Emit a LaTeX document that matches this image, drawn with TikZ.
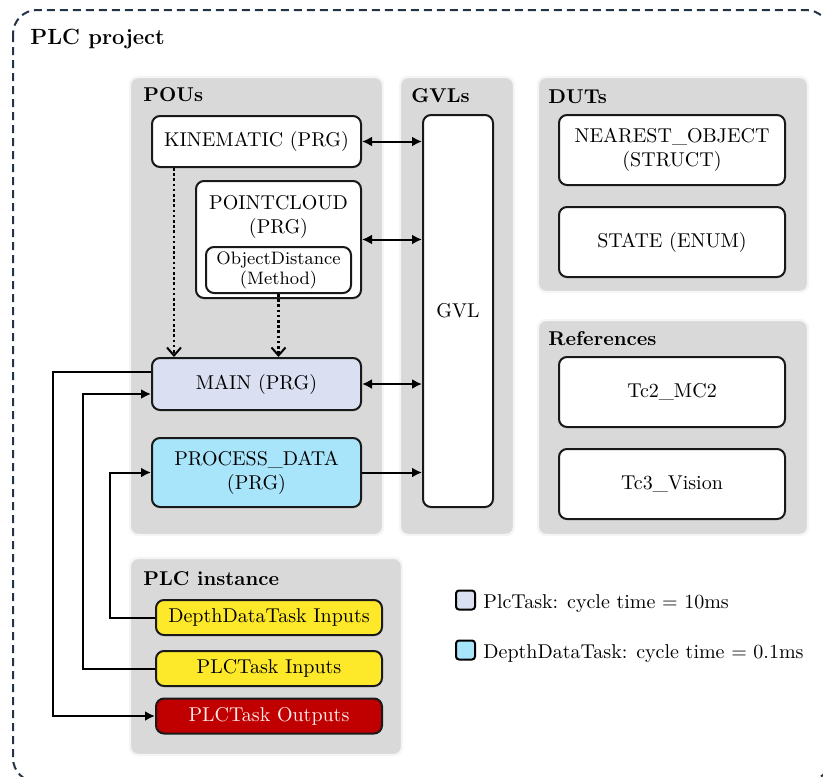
\documentclass[tikz,border=0pt]{standalone}
\usetikzlibrary{arrows.meta,calc}
\definecolor{framecol}{HTML}{243447}
\definecolor{panelgray}{HTML}{D9D9D9}
\definecolor{plcblue}{HTML}{DAE0F2}
\definecolor{depthcyan}{HTML}{A9E5FA}
\definecolor{inyellow}{HTML}{FDE92A}
\definecolor{outred}{HTML}{C00000}
\tikzset{
  panel/.style={fill=panelgray, draw=black!4, line width=1.2pt, rounded corners=4pt},
  paneltitle/.style={anchor=base west, font=\bfseries, inner sep=0pt},
  box/.style={draw=black!90, line width=1pt, fill=white, rounded corners=4pt,
              align=center, inner sep=2pt},
  iobox/.style={box, minimum width=113pt, minimum height=17.5pt},
  conn/.style={line width=1pt, -{Latex[length=5pt,width=5pt]}},
  biconn/.style={line width=1pt, {Latex[length=5pt,width=5pt]}-{Latex[length=5pt,width=5pt]}},
  dotconn/.style={line width=1.3pt, dash pattern=on 1.3pt off 1.3pt,
                  -{Straight Barb[length=4pt,width=7pt,line width=1pt]}},
  legendsq/.style={draw=black, line width=1pt, rounded corners=1.5pt,
                   minimum size=9.5pt, inner sep=0pt},
}
\begin{document}
\begin{tikzpicture}[x=0.5pt, y=-0.5pt]
\useasboundingbox (0,0) rectangle (823,776);

% outer project frame
\draw[framecol, line width=1pt, dash pattern=on 4pt off 2.5pt, rounded corners=12pt]
  (13,10) rectangle (830,782);
\node[paneltitle, font=\bfseries\fontsize{11}{13}\selectfont] (projtitle) at (30,44) {PLC project};

% group panels
\filldraw[panel] (130,77) rectangle (383,535);
\filldraw[panel] (400,77) rectangle (514,535);
\filldraw[panel] (538,77) rectangle (808,292);
\filldraw[panel] (538,320) rectangle (808,535);
\filldraw[panel] (130,558) rectangle (402,755);

\node[paneltitle] (poustitle) at (143,101) {POUs};
\node[paneltitle] (gvlstitle) at (411,102) {GVLs};
\node[paneltitle] (dutstitle) at (548,103) {DUTs};
\node[paneltitle] (refstitle) at (548,345) {References};
\node[paneltitle] (insttitle) at (143,585) {PLC instance};

% POUs
\node[box, minimum width=104.5pt, minimum height=25.5pt] (kin) at (256.5,141.5) {KINEMATIC (PRG)};
\node[box, minimum width=82.5pt, minimum height=58.5pt] (pc) at (278.5,239.5) {};
\node[align=center, inner sep=0pt] (pclabel) at (278.5,217) {POINTCLOUD\\(PRG)};
\node[box, minimum width=72.5pt, minimum height=23pt, font=\small, inner sep=1pt] (od) at (278.5,270)
  {ObjectDistance\\[-1pt](Method)};
\node[box, fill=plcblue, minimum width=104.5pt, minimum height=26pt] (main) at (256.5,384) {MAIN (PRG)};
\node[box, fill=depthcyan, minimum width=104.5pt, minimum height=34.5pt] (pd) at (256.5,472.5) {PROCESS\_DATA\\(PRG)};

% GVLs
\node[box, minimum width=35pt, minimum height=196pt] (gvl) at (458,311) {GVL};

% DUTs
\node[box, minimum width=113pt, minimum height=35pt] (nearest) at (672,150) {NEAREST\_OBJECT\\(STRUCT)};
\node[box, minimum width=113pt, minimum height=35pt] (state) at (672,242) {STATE (ENUM)};

% References
\node[box, minimum width=113pt, minimum height=35pt] (tctwo) at (672,392) {Tc2\_MC2};
\node[box, minimum width=113pt, minimum height=35pt] (tcthree) at (672,484) {Tc3\_Vision};

% PLC instance
\node[iobox, fill=inyellow] (ddi) at (269,617.5) {DepthDataTask Inputs};
\node[iobox, fill=inyellow] (pti) at (269,668.5) {PLCTask Inputs};
\node[iobox, fill=outred, text=red!8] (pto) at (269,716) {PLCTask Outputs};

% links to the global variable list
\draw[biconn] (kin.east) -- (kin.east -| gvl.west);
\draw[biconn] (pc.east) -- (pc.east -| gvl.west);
\draw[biconn] (main.east) -- (main.east -| gvl.west);
\draw[conn] (pd.east) -- (pd.east -| gvl.west);

% calls into MAIN
\coordinate (kincall) at (174,0);
\draw[dotconn] (kin.south -| kincall) -- (main.north -| kincall);
\draw[dotconn] (od.south) -- (main.north -| od.south);

% task I/O wiring
\coordinate (busout) at (53,0);
\coordinate (busin) at (83,0);
\coordinate (busdepth) at (110,0);
\coordinate (mainout) at ([yshift=6pt]main.west);
\coordinate (mainin) at ([yshift=-5pt]main.west);
\draw[conn] (mainout) -- (mainout -| busout) |- (pto.west);
\draw[conn] (pti.west) -- (pti.west -| busin) |- (mainin);
\draw[conn] (ddi.west) -- (ddi.west -| busdepth) |- (pd.west);

% legend
\node[legendsq, fill=plcblue] (legplc) at (465.5,600) {};
\node[anchor=base west, inner sep=0pt] (legplctext) at (483,608) {PlcTask: cycle time = 10ms};
\node[legendsq, fill=depthcyan] (legdepth) at (465.5,650) {};
\node[anchor=base west, inner sep=0pt] (legdepthtext) at (483,658) {DepthDataTask: cycle time = 0.1ms};
\end{tikzpicture}
\end{document}
